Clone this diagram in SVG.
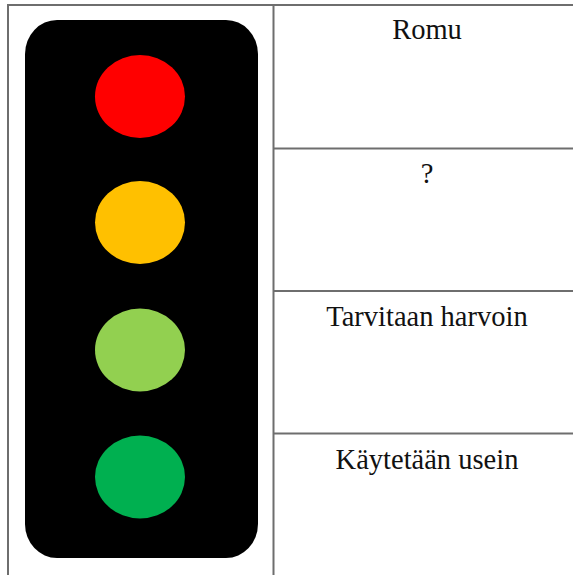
<svg xmlns="http://www.w3.org/2000/svg" width="573" height="575" viewBox="0 0 573 575">
<style>
.grid{stroke:#6e6e6e;stroke-width:2;fill:none}
.lbl{font-family:"Liberation Serif","Times New Roman",serif;font-size:28.5px;fill:#111;text-anchor:middle}
</style>
<rect width="573" height="575" fill="#fff"/>
<g id="table">
<line class="grid" x1="8" y1="5" x2="573" y2="5"/>
<line class="grid" x1="8" y1="4" x2="8" y2="575"/>
<line class="grid" x1="273.5" y1="4" x2="273.5" y2="575"/>
<line class="grid" x1="273" y1="148.5" x2="573" y2="148.5"/>
<line class="grid" x1="273" y1="291" x2="573" y2="291"/>
<line class="grid" x1="273" y1="433.5" x2="573" y2="433.5"/>
</g>
<g id="traffic-light">
<rect x="25" y="20" width="233" height="538" rx="32" ry="34" fill="#000"/>
<ellipse cx="140" cy="96.5" rx="45" ry="41.5" fill="#ff0000"/>
<ellipse cx="140" cy="222.5" rx="45" ry="41.5" fill="#ffc000"/>
<ellipse cx="140" cy="350" rx="45" ry="41.5" fill="#92d050"/>
<ellipse cx="140" cy="477" rx="45" ry="41.5" fill="#00b050"/>
</g>
<g id="row1"><text class="lbl" x="427" y="39">Romu</text></g>
<g id="row2"><text class="lbl" x="427" y="183">?</text></g>
<g id="row3"><text class="lbl" x="427" y="326">Tarvitaan harvoin</text></g>
<g id="row4"><text class="lbl" x="427" y="469">Käytetään usein</text></g>
</svg>
